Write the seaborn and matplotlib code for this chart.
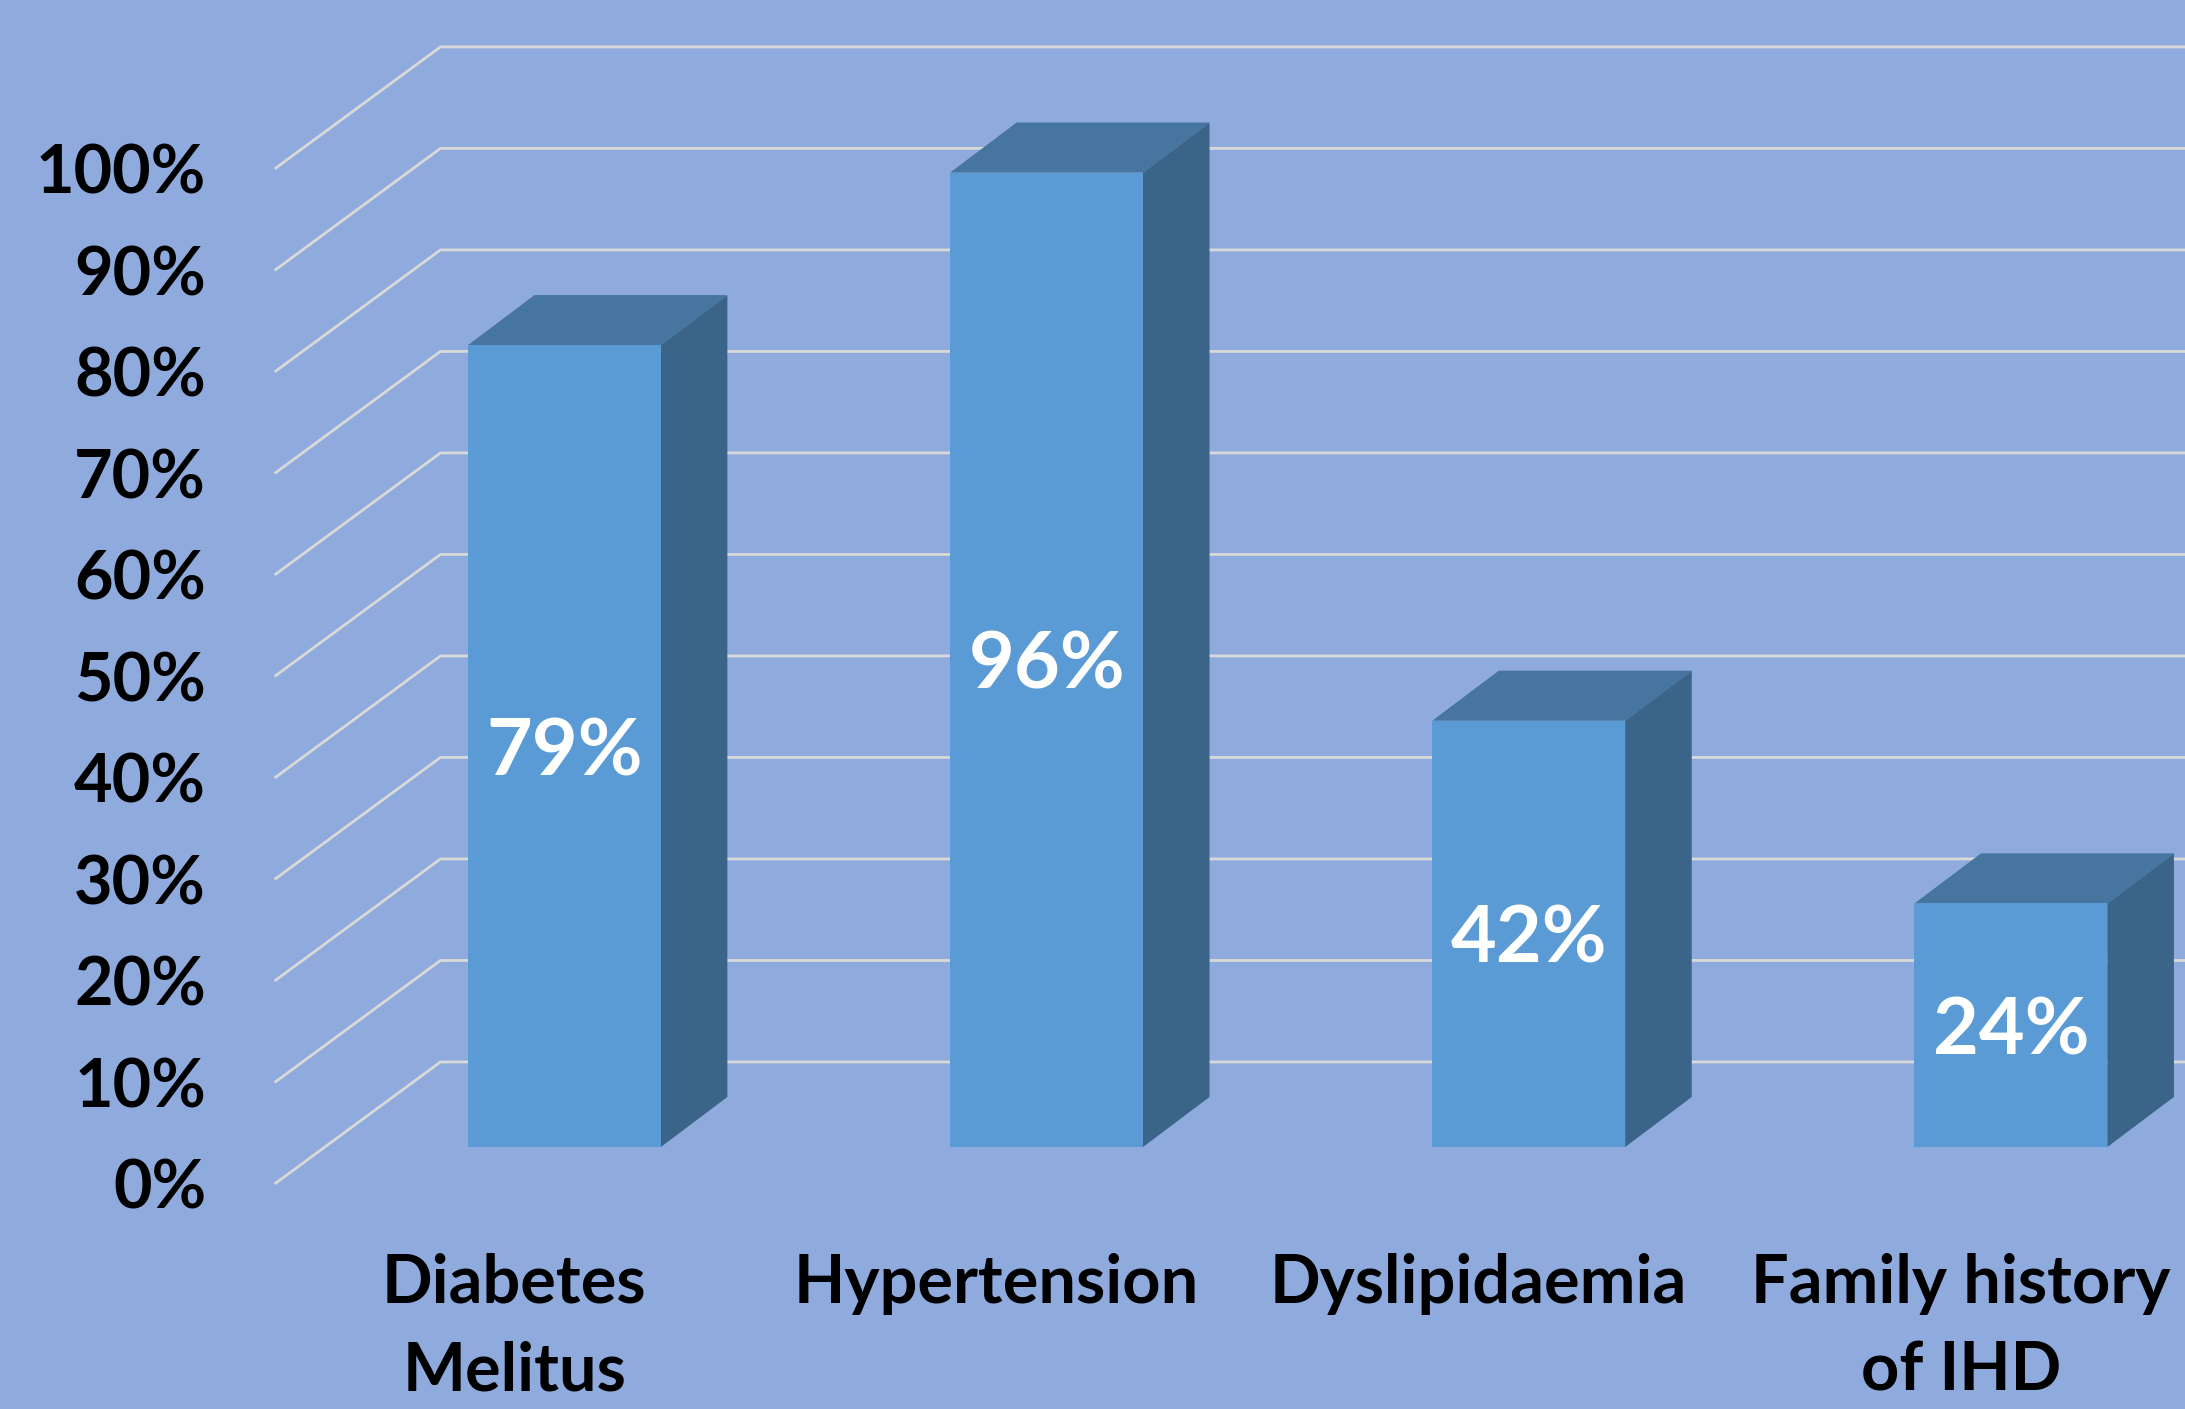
import numpy as np
import pandas as pd
import seaborn as sns
import matplotlib.pyplot as plt
from matplotlib.patches import Polygon

# chart data
categories = ["Diabetes\nMelitus", "Hypertension", "Dyslipidaemia", "Family history\nof IHD"]
percentages = [79, 96, 42, 24]
tick_values = list(range(0, 101, 10))
tick_labels = [f"{t}%" for t in tick_values]

# colours
BG = "#8FAADC"
FRONT = "#5B9BD5"
TOP = "#4676A0"
SIDE = "#3A6488"
GRID = "#D9D9D9"

# fake 3d geometry, in data units of the bar-front plane
BAR_W = 0.4
DEPTH_X, DEPTH_Y = 0.138, 4.93      # bar depth
WALL_X, WALL_Y = 0.240, 8.38        # back wall offset
LABEL_X, LABEL_Y = -0.104, -3.64    # front (label) plane offset
AXIS_X = -0.601                     # left edge of the floor / gridlines

sns.set_theme(style="white")
plt.rcParams['font.family'] = ['Lato', 'DejaVu Sans']

fig = plt.figure(figsize=(21.85, 14.09), dpi=100, facecolor=BG)
ax = fig.add_axes([0, 0, 1, 1])

df = pd.DataFrame({"category": categories, "value": percentages})

sns.barplot(data=df, x="category", y="value", color=FRONT, saturation=1,
            width=BAR_W, linewidth=0, ax=ax, zorder=3)

xmin, xmax = -1.1705, 3.361
ax.set_xlim(xmin, xmax)
ax.set_ylim(-25.81, 113.0)
ax.set_axis_off()

# gridlines: diagonal on the floor side, then flat along the back wall
for t in tick_values:
    ax.plot([AXIS_X, AXIS_X + WALL_X - LABEL_X, xmax],
            [t + LABEL_Y, t + WALL_Y, t + WALL_Y],
            color=GRID, lw=2, zorder=1, solid_capstyle='butt')

# top and side faces for each bar
for bar in ax.patches[:len(percentages)]:
    x0 = bar.get_x()
    x1 = x0 + bar.get_width()
    h = bar.get_height()
    top = Polygon([(x0, h), (x1, h), (x1 + DEPTH_X, h + DEPTH_Y), (x0 + DEPTH_X, h + DEPTH_Y)],
                  closed=True, facecolor=TOP, edgecolor='none', zorder=2.9)
    side = Polygon([(x1, 0), (x1 + DEPTH_X, DEPTH_Y), (x1 + DEPTH_X, h + DEPTH_Y), (x1, h)],
                   closed=True, facecolor=SIDE, edgecolor='none', zorder=2.9)
    ax.add_patch(top)
    ax.add_patch(side)

# value labels inside the bars
for i, v in enumerate(percentages):
    ax.text(i, v / 2, f"{v}%", ha='center', va='center_baseline', color='white',
            fontsize=57, fontweight='bold', zorder=5)

# y axis labels on the front plane
for t, lab in zip(tick_values, tick_labels):
    ax.text(AXIS_X - 0.142, t + LABEL_Y, lab, ha='right', va='center_baseline',
            color='black', fontsize=48, fontweight='bold')

# category labels
for i, cat in enumerate(categories):
    ax.text(i + LABEL_X, -10.4, cat, ha='center', va='top', color='black',
            fontsize=48, fontweight='bold', linespacing=1.52)

fig.savefig("out.png", dpi=100, facecolor=fig.get_facecolor())
